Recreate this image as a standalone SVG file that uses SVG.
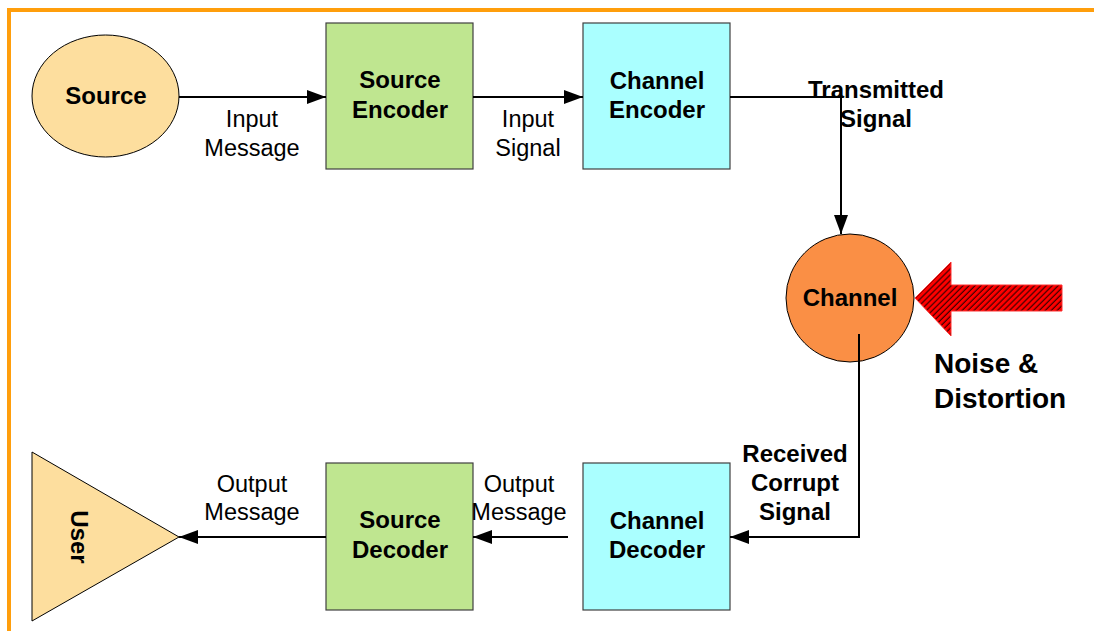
<svg xmlns="http://www.w3.org/2000/svg" width="1094" height="631" viewBox="0 0 1094 631">
<style>
.bold{font-family:"Liberation Sans",Arial,sans-serif;font-weight:bold;font-size:24px;fill:#000;text-anchor:middle}
.lbl{font-family:"Liberation Sans",Arial,sans-serif;font-size:23.5px;fill:#000;text-anchor:middle}
.box{stroke:#404040;stroke-width:1.2}
.conn{fill:none;stroke:#000;stroke-width:2}
</style>
<defs>
<marker id="ah" markerUnits="userSpaceOnUse" markerWidth="20" markerHeight="14" refX="19" refY="7" orient="auto">
<path d="M0,0 L19,7 L0,14 Z" fill="#000"/>
</marker>
<pattern id="hatch" width="4.2" height="4.2" patternUnits="userSpaceOnUse" patternTransform="rotate(45)">
<rect width="4.2" height="4.2" fill="#FF0000"/>
<line x1="1" y1="0" x2="1" y2="4.2" stroke="#000" stroke-width="0.9"/>
</pattern>
</defs>
<rect width="1094" height="631" fill="#fff"/>
<path d="M9,631 V10 H1094" fill="none" stroke="#FF9E0C" stroke-width="4"/>

<g id="source">
<ellipse cx="105.5" cy="96" rx="73.5" ry="61" fill="#FDDE9E" stroke="#000" stroke-width="1"/>
<text class="bold" x="106" y="104">Source</text>
</g>
<g id="source-encoder">
<rect class="box" x="326" y="23" width="147" height="146" fill="#BFE690"/>
<text class="bold" x="400" y="88">Source</text>
<text class="bold" x="400" y="118">Encoder</text>
</g>
<g id="channel-encoder">
<rect class="box" x="583" y="23" width="147" height="146" fill="#AAFFFF"/>
<text class="bold" x="657" y="89">Channel</text>
<text class="bold" x="657" y="118">Encoder</text>
</g>
<g id="channel">
<circle cx="850" cy="298" r="64" fill="#FA8F45" stroke="#000" stroke-width="1"/>
<text class="bold" x="850" y="306">Channel</text>
</g>
<g id="noise">
<polygon points="915,298 951,262 951,285 1062,285 1062,311 951,311 951,336" fill="url(#hatch)" stroke="#FF3030" stroke-width="1"/>
<text style="font-family:'Liberation Sans',Arial,sans-serif;font-weight:bold;font-size:28px" x="934" y="373">Noise &amp;</text>
<text style="font-family:'Liberation Sans',Arial,sans-serif;font-weight:bold;font-size:28px" x="934" y="408">Distortion</text>
</g>
<g id="channel-decoder">
<rect class="box" x="583" y="463" width="147" height="147" fill="#AAFFFF"/>
<text class="bold" x="657" y="529">Channel</text>
<text class="bold" x="657" y="558">Decoder</text>
</g>
<g id="source-decoder">
<rect class="box" x="326" y="463" width="147" height="147" fill="#BFE690"/>
<text class="bold" x="400" y="528">Source</text>
<text class="bold" x="400" y="558">Decoder</text>
</g>
<g id="user">
<polygon points="32,452 179,537 32,621" fill="#FDDE9E" stroke="#000" stroke-width="1"/>
<text class="bold" transform="translate(71,537) rotate(90)" x="0" y="0">User</text>
</g>

<g id="connectors">
<path class="conn" d="M179,97 H326" marker-end="url(#ah)"/>
<path class="conn" d="M473,97 H583" marker-end="url(#ah)"/>
<path class="conn" d="M730,97 H841 V234" marker-end="url(#ah)"/>
<path class="conn" d="M859,334 V537 H730" marker-end="url(#ah)"/>
<path class="conn" d="M568,537 H473" marker-end="url(#ah)"/>
<path class="conn" d="M326,537 H179" marker-end="url(#ah)"/>
</g>

<g id="labels">
<text class="lbl" x="252" y="127">Input</text>
<text class="lbl" x="252" y="156">Message</text>
<text class="lbl" x="528" y="127">Input</text>
<text class="lbl" x="528" y="156">Signal</text>
<text class="bold" x="876" y="98">Transmitted</text>
<text class="bold" x="876" y="127">Signal</text>
<text class="bold" x="795" y="462">Received</text>
<text class="bold" x="795" y="491">Corrupt</text>
<text class="bold" x="795" y="520">Signal</text>
<text class="lbl" x="519" y="492">Output</text>
<text class="lbl" x="519" y="520">Message</text>
<text class="lbl" x="252" y="492">Output</text>
<text class="lbl" x="252" y="520">Message</text>
</g>
</svg>
